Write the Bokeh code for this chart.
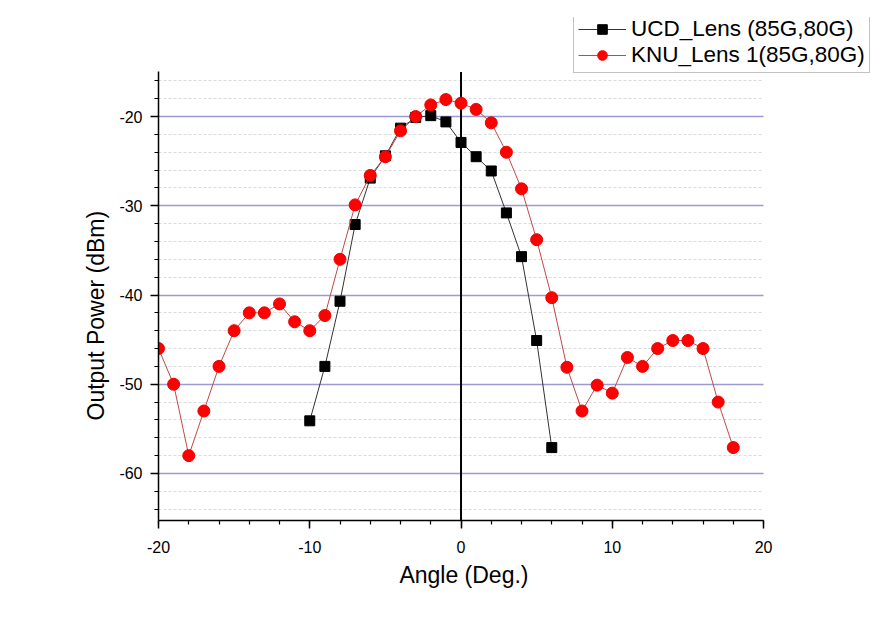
from bokeh.plotting import figure
from bokeh.models import FixedTicker, Legend, LegendItem, Range1d, Title
from bokeh.embed import file_html
from bokeh.resources import INLINE

# KNU_Lens 1 (85G,80G)
knu_angle = list(range(-20, 19))
knu_power = [-46.0, -50.0, -58.0, -53.0, -48.0, -44.0, -42.0, -42.0, -41.0, -43.0,
             -44.0, -42.3, -36.0, -29.9, -26.6, -24.5, -21.6, -20.0, -18.7, -18.1,
             -18.5, -19.2, -20.7, -24.0, -28.1, -33.8, -40.3, -48.1, -53.0, -50.1,
             -51.0, -47.0, -48.0, -46.0, -45.1, -45.1, -46.0, -52.0, -57.1]

# UCD_Lens (85G,80G)
ucd_angle = list(range(-10, 7))
ucd_power = [-54.1, -48.0, -40.7, -32.1, -26.9, -24.4, -21.3, -20.1, -19.9, -20.6,
             -22.9, -24.5, -26.1, -30.8, -35.7, -45.1, -57.1]

series_labels = ["UCD_Lens (85G,80G)", "KNU_Lens 1(85G,80G)"]
x_title = "Angle (Deg.)"
y_title = "Output Power (dBm)"

# axis extents (the frame is larger so the legend can sit above the axes)
X_LO, X_HI = -20, 20
Y_LO, Y_HI = -65.27, -15.0
x_major = [-20, -10, 0, 10, 20]
x_minor = list(range(-20, 21, 2))
y_major = [-60, -50, -40, -30, -20]
y_minor = list(range(-64, -15, 2))

FONT = "Liberation Sans"

p = figure(width=878, height=614, output_backend="svg", toolbar_location=None,
           x_range=Range1d(X_LO, 27.6), y_range=Range1d(Y_LO, -8.9),
           min_border_left=158, min_border_right=0, min_border_top=17, min_border_bottom=94)
p.outline_line_color = None
p.background_fill_color = "white"

# grids
p.xgrid.grid_line_color = None
p.ygrid.ticker = FixedTicker(ticks=y_major, minor_ticks=y_minor)
MAJOR_GRID = dict(line_color="#9c9ad0", line_width=1.6)
MINOR_GRID = dict(line_color="#d8dcdc", line_width=1, line_dash="3 2")
if "cross_bounds" in p.ygrid.properties():
    p.ygrid.cross_bounds = (X_LO, X_HI)
    p.ygrid.grid_line_color = MAJOR_GRID["line_color"]
    p.ygrid.grid_line_width = MAJOR_GRID["line_width"]
    p.ygrid.minor_grid_line_color = MINOR_GRID["line_color"]
    p.ygrid.minor_grid_line_dash = MINOR_GRID["line_dash"]
    p.ygrid.minor_grid_line_width = MINOR_GRID["line_width"]
else:
    p.ygrid.grid_line_color = None
    minor_only = [v for v in y_minor if v not in y_major]
    p.segment(x0=X_LO, x1=X_HI, y0=minor_only, y1=minor_only, level="underlay", **MINOR_GRID)
    p.segment(x0=X_LO, x1=X_HI, y0=y_major, y1=y_major, level="underlay", **MAJOR_GRID)

# axes
for ax in (p.xaxis[0], p.yaxis[0]):
    ax.axis_line_color = "black"
    ax.axis_line_width = 1.5
    ax.major_tick_line_color = "black"
    ax.major_tick_line_width = 1.5
    ax.minor_tick_line_color = "black"
    ax.minor_tick_line_width = 1.2
    ax.major_tick_in = 0
    ax.major_tick_out = 8
    ax.minor_tick_in = 0
    ax.minor_tick_out = 4
    ax.major_label_text_font = FONT
    ax.major_label_text_font_size = "16px"
    ax.major_label_text_color = "black"

p.xaxis.bounds = (X_LO, X_HI)
p.yaxis.bounds = (Y_LO, Y_HI)
p.xaxis.ticker = FixedTicker(ticks=x_major, minor_ticks=x_minor)
p.yaxis.ticker = FixedTicker(ticks=y_major, minor_ticks=y_minor)
p.xaxis.major_label_overrides = {v: str(v) for v in x_major}
p.yaxis.major_label_overrides = {v: str(v) for v in y_major}
p.xaxis.major_label_standoff = 12
p.yaxis.major_label_standoff = 8

# axis titles placed along the axis extent (not the wider frame)
TITLE_STYLE = dict(text_font=FONT, text_font_size="23px", text_font_style="normal",
                   text_color="black", vertical_align="middle")
p.add_layout(Title(text=x_title, align="right", offset=350, standoff=10, **TITLE_STYLE), "below")
p.add_layout(Title(text=y_title, align="left", offset=100, standoff=14, **TITLE_STYLE), "left")

# vertical reference line at angle 0, spanning the y axis extent
p.line([0, 0], [Y_LO, Y_HI], line_color="black", line_width=2)

# series
l1 = p.line(ucd_angle, ucd_power, line_color="#333333", line_width=1)
s1 = p.scatter(ucd_angle, ucd_power, marker="square", size=10,
               fill_color="black", line_color="black")
l2 = p.line(knu_angle, knu_power, line_color="#c04848", line_width=1)
s2 = p.scatter(knu_angle, knu_power, marker="circle", size=12,
               fill_color="#ff0000", line_color="#ee0000")

legend = Legend(items=[LegendItem(label=series_labels[0], renderers=[l1, s1]),
                       LegendItem(label=series_labels[1], renderers=[l2, s2])],
                location=(415, 447), orientation="vertical")
legend.label_text_font = FONT
legend.label_text_font_size = "22.5px"
legend.label_text_color = "black"
legend.glyph_width = 48
legend.glyph_height = 24
legend.label_height = 24
legend.label_standoff = 5
legend.spacing = 0
legend.padding = 4
legend.margin = 0
legend.border_line_color = "#888888"
legend.border_line_width = 1
legend.background_fill_color = "white"
legend.background_fill_alpha = 1
p.add_layout(legend, "center")

open("out.html", "w").write(file_html(p, INLINE))
